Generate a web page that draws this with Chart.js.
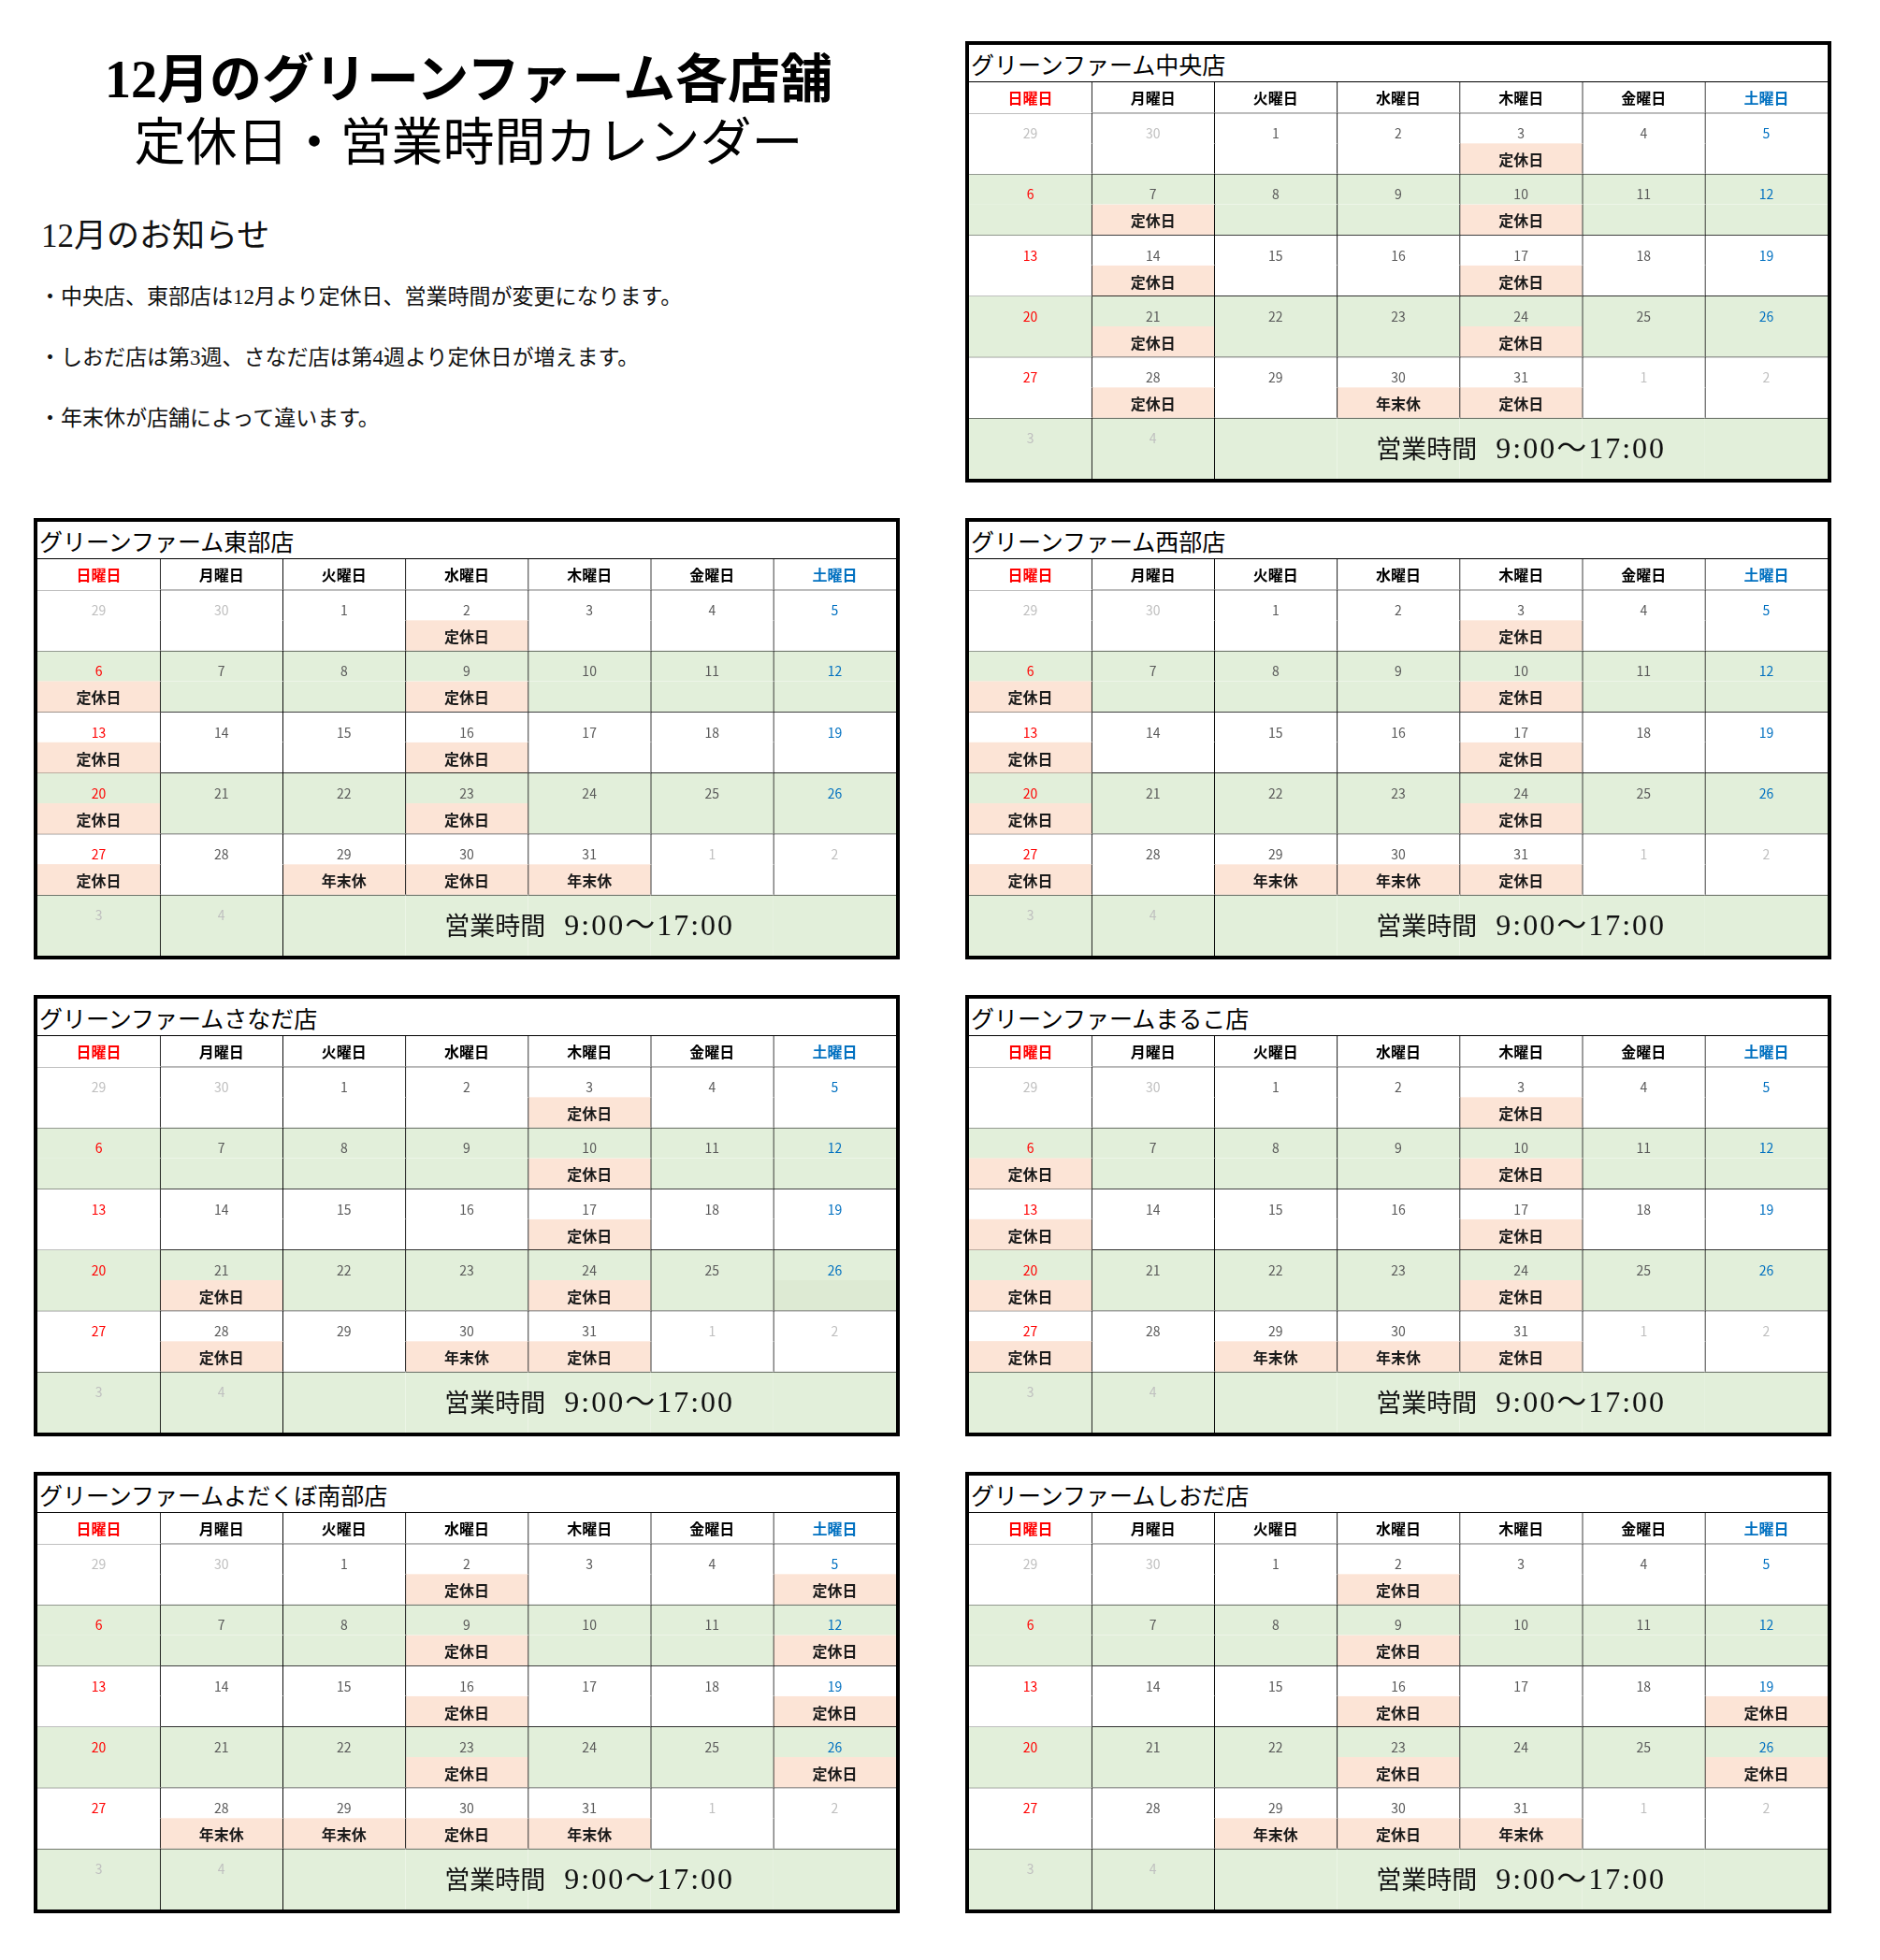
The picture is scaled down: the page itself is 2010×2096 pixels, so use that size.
<!DOCTYPE html>
<html lang="ja">
<head>
<meta charset="utf-8">
<title>12月のグリーンファーム各店舗 定休日・営業時間カレンダー</title>
<script src="https://cdn.jsdelivr.net/npm/chart.js@4.4.0/dist/chart.umd.min.js"></script>
<style>
body { margin:0; width:2010px; height:2096px; background:#fff; position:relative; overflow:hidden;
       font-family:"Noto Sans CJK JP", sans-serif; }
.head { position:absolute; left:0; width:1002px; text-align:center; white-space:nowrap;
        font-family:"Liberation Serif","Noto Sans CJK JP",serif; color:#000; }
.note { position:absolute; left:42px; white-space:nowrap; color:#111;
        font-family:"Liberation Serif","Noto Sans CJK JP",serif; }
.cal { position:absolute; width:926px; height:472px; box-sizing:border-box; border:4px solid #000; background:#fff; }
.cal .ttl { height:39px; border-bottom:1px solid #000; font-size:25px; line-height:40px; padding-left:2px;
            font-family:"Noto Sans CJK JP",sans-serif; color:#000; white-space:nowrap; }
.cal canvas { display:block; }
</style>
</head>
<body>

<div class="head" style="top:50px;height:70px;line-height:70px;font-size:56px;font-weight:bold;">12月のグリーンファーム各店舗</div>
<div class="head" style="top:118px;height:70px;line-height:70px;font-size:55px;">定休日・営業時間カレンダー</div>

<div class="note" style="top:231px;left:44px;line-height:44px;font-size:35px;">12月のお知らせ</div>
<div class="note" style="top:303px;line-height:30px;font-size:23px;">・中央店、東部店は12月より定休日、営業時間が変更になります。</div>
<div class="note" style="top:368px;line-height:30px;font-size:23px;">・しおだ店は第3週、さなだ店は第4週より定休日が増えます。</div>
<div class="note" style="top:433px;line-height:30px;font-size:23px;">・年末休が店舗によって違います。</div>

<div id="cals"></div>

<script>
// calendar content
var dayLabels = ['日曜日', '月曜日', '火曜日', '水曜日', '木曜日', '金曜日', '土曜日'];
var weekDates = [
    [29, 30, 1, 2, 3, 4, 5],
    [6, 7, 8, 9, 10, 11, 12],
    [13, 14, 15, 16, 17, 18, 19],
    [20, 21, 22, 23, 24, 25, 26],
    [27, 28, 29, 30, 31, 1, 2],
    [3, 4]
];
var inMonth = [
    [0, 0, 1, 1, 1, 1, 1],
    [1, 1, 1, 1, 1, 1, 1],
    [1, 1, 1, 1, 1, 1, 1],
    [1, 1, 1, 1, 1, 1, 1],
    [1, 1, 1, 1, 1, 0, 0],
    [0, 0]
];
var hoursLabel = '営業時間';
var hoursValue = '9:00～17:00';

var storeNames = [
    'グリーンファーム中央店',
    'グリーンファーム東部店',
    'グリーンファーム西部店',
    'グリーンファームさなだ店',
    'グリーンファームまるこ店',
    'グリーンファームよだくぼ南部店',
    'グリーンファームしおだ店'
];
var teikyuDays = [
    [3, 7, 10, 14, 17, 21, 24, 28, 31],
    [2, 6, 9, 13, 16, 20, 23, 27, 30],
    [3, 6, 10, 13, 17, 20, 24, 27, 31],
    [3, 10, 17, 21, 24, 28, 31],
    [3, 6, 10, 13, 17, 20, 24, 27, 31],
    [2, 5, 9, 12, 16, 19, 23, 26, 30],
    [2, 9, 16, 19, 23, 26, 30]
];
var nenmatsuDays = [
    [30],
    [29, 31],
    [29, 30],
    [30],
    [29, 30],
    [28, 29, 31],
    [29, 31]
];
var dottedDays = [[], [], [], [26], [], [], []];

var boxLeft = [1032, 36, 1032, 36, 1032, 36, 1032];
var boxTop  = [44, 554, 554, 1064, 1064, 1574, 1574];

var GREEN = '#E2EFDA', PINK = '#FCE4D6', WHITE = '#FFFFFF', LINE = '#000000';
var RED = '#FF0000', BLUE = '#0070C0', GRAY = '#595959', LIGHT = '#BFBFBF';
var JP = '"Noto Sans CJK JP"';

function cellStatus(s, w, c) {
    if (!inMonth[w][c]) return '';
    var d = weekDates[w][c];
    if (teikyuDays[s].indexOf(d) >= 0) return '定休日';
    if (nenmatsuDays[s].indexOf(d) >= 0) return '年末休';
    return '';
}
function rowColor(w) {
    return (w % 2 === 1) ? GREEN : WHITE;
}

// draws the texts of the cells using the chart scales
var calendarText = {
    id: 'calendarText',
    afterDatasetsDraw: function(chart, args, opts) {
        var s = opts.store;
        var x = chart.scales.x, y = chart.scales.y, ctx = chart.ctx;
        ctx.save();
        ctx.textAlign = 'center';
        ctx.textBaseline = 'middle';

        ctx.font = 'bold 16px ' + JP;
        dayLabels.forEach(function(lbl, c) {
            ctx.fillStyle = c === 0 ? RED : (c === 6 ? BLUE : '#000');
            ctx.fillText(lbl, x.getPixelForValue(c), y.getPixelForValue(0.52));
        });

        weekDates.forEach(function(row, w) {
            row.forEach(function(d, c) {
                var col = LIGHT;
                if (inMonth[w][c]) col = c === 0 ? RED : (c === 6 ? BLUE : GRAY);
                ctx.font = '14px ' + JP;
                ctx.fillStyle = col;
                ctx.fillText(String(d), x.getPixelForValue(c), y.getPixelForValue(1 + 2 * w + 0.68));
                var st = cellStatus(s, w, c);
                if (st) {
                    ctx.font = 'bold 16px ' + JP;
                    ctx.fillStyle = '#1a1a1a';
                    ctx.fillText(st, x.getPixelForValue(c), y.getPixelForValue(2 + 2 * w + 0.55));
                }
            });
        });

        // business hours in the merged cell
        var half = (x.getPixelForValue(1) - x.getPixelForValue(0)) / 2;
        var left = x.getPixelForValue(2) - half, right = chart.chartArea.right;
        var cx = (left + right) / 2;
        var base = y.getPixelForValue(12) + 11;
        ctx.textAlign = 'left';
        ctx.textBaseline = 'alphabetic';
        ctx.fillStyle = '#111';
        ctx.font = '27px ' + JP;
        var w1 = ctx.measureText(hoursLabel).width;
        ctx.font = '32px "Liberation Serif", ' + JP;
        ctx.letterSpacing = '2px';
        var w2 = ctx.measureText(hoursValue).width;
        var gap = 20;
        var start = cx - (w1 + gap + w2) / 2;
        ctx.fillText(hoursValue, start + w1 + gap, base);
        ctx.letterSpacing = '0px';
        ctx.font = '27px ' + JP;
        ctx.fillText(hoursLabel, start, base);
        ctx.restore();
    }
};

function makeCalendar(s) {
    var box = document.createElement('div');
    box.className = 'cal';
    box.style.left = boxLeft[s] + 'px';
    box.style.top = boxTop[s] + 'px';
    var ttl = document.createElement('div');
    ttl.className = 'ttl';
    ttl.textContent = storeNames[s];
    box.appendChild(ttl);
    var cv = document.createElement('canvas');
    cv.width = 918;
    cv.height = 424;
    box.appendChild(cv);
    document.getElementById('cals').appendChild(box);

    var datasets = [];
    // header row
    datasets.push({
        data: dayLabels.map(function() { return [0, 1]; }),
        backgroundColor: WHITE,
        borderWidth: function(ctx) { return {top: 0, right: 0, bottom: 0, left: ctx.dataIndex > 0 ? 1 : 0}; }
    });
    // weeks 1..5 : date row + label row
    for (var w = 0; w < 5; w++) {
        (function(w) {
            datasets.push({
                data: weekDates[w].map(function() { return [1 + 2 * w, 2 + 2 * w]; }),
                backgroundColor: rowColor(w),
                borderWidth: function(ctx) { return {top: 1, right: 0, bottom: 0, left: ctx.dataIndex > 0 ? 1 : 0}; }
            });
            datasets.push({
                data: weekDates[w].map(function() { return [2 + 2 * w, 3 + 2 * w]; }),
                backgroundColor: weekDates[w].map(function(d, c) {
                    if (cellStatus(s, w, c)) return PINK;
                    if (inMonth[w][c] && dottedDays[s].indexOf(d) >= 0) return '#DDEAD3';
                    return rowColor(w);
                }),
                borderWidth: function(ctx) { return {top: 0, right: 0, bottom: 0, left: ctx.dataIndex > 0 ? 1 : 0}; }
            });
        })(w);
    }
    // last week row, hours cell merged across the remaining days
    datasets.push({
        data: dayLabels.map(function() { return [11, 13]; }),
        backgroundColor: GREEN,
        borderWidth: function(ctx) {
            var i = ctx.dataIndex;
            return {top: 1, right: 0, bottom: 0, left: (i === 1 || i === 2) ? 1 : 0};
        }
    });

    new Chart(cv, {
        type: 'bar',
        data: {labels: dayLabels, datasets: datasets},
        options: {
            responsive: false,
            animation: false,
            devicePixelRatio: 1,
            layout: {padding: 0},
            datasets: {
                bar: {
                    grouped: false,
                    barPercentage: 1,
                    categoryPercentage: 1,
                    borderSkipped: false,
                    borderColor: LINE
                }
            },
            scales: {
                x: {display: false},
                y: {display: false, min: 0, max: 13, reverse: true}
            },
            plugins: {
                legend: {display: false},
                tooltip: {enabled: false},
                calendarText: {store: s}
            }
        },
        plugins: [calendarText]
    });
}

for (var i = 0; i < storeNames.length; i++) makeCalendar(i);
</script>
</body>
</html>
